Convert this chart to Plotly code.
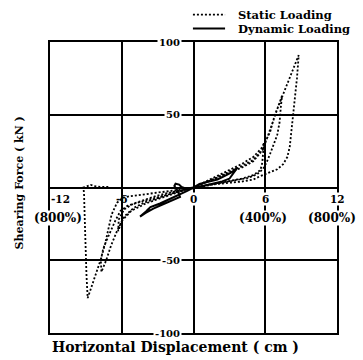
import plotly.graph_objects as go

# ---------------- data ----------------
# Static loading: successive hysteresis loops (cm, kN)
static_A_pos_x = [0, 1, 2, 3, 4, 5, 5.6, 5.9, 5.85, 5.75, 5.6, 5.0, 4.0, 3.0, 2.0, 1.0, 0]
static_A_pos_y = [0, 3.5, 7, 10, 13.5, 18, 24, 31, 24, 17, 12, 8.5, 6, 4.5, 3, 1.5, 0]

static_A_neg_x = [0, -1, -2, -3, -4, -5.2, -6.0, -6.3, -6.25, -5.8, -5.0, -4.0, -3.0, -2.0, -1.0, 0]
static_A_neg_y = [0, -2.5, -5, -8, -11, -16, -23, -30, -22, -15, -11, -8, -5.5, -3.5, -1.5, 0]

static_B_pos_x = [0, 1, 2, 3, 4, 5, 5.8, 6.2, 6.6, 6.95, 7.4,
                  7.3, 7.2, 7.0, 6.7, 6.4, 6.1, 5.8, 5.3, 4.5, 3.5, 2.5, 1.5, 0]
static_B_pos_y = [0, 3.5, 7, 10.5, 14.5, 19, 26, 35, 44, 52, 63,
                  55, 45, 36, 29, 23, 17, 12.5, 9, 6.5, 5, 3.5, 2, 0]

static_B_neg_x = [0, -1, -2, -3, -4, -5, -5.8, -6.4, -6.9, -7.3, -7.7,
                  -7.75, -7.55, -7.25, -6.9, -6.55, -6.1, -5.5, -4.5, -3.5, -2.5, -1.5, 0]
static_B_neg_y = [0, -2, -4.5, -7, -10, -14, -20, -30, -40, -50, -58,
                  -50, -42, -36, -29, -23, -16, -12.5, -10, -7.5, -5.5, -3.5, 0]

static_C_pos_x = [0, 1, 2, 3, 4, 5, 5.8, 6.4, 6.8, 7.3, 7.8, 8.3, 8.8,
                  8.65, 8.45, 8.3, 8.2, 8.05, 7.85, 7.5, 7.0, 6.4, 6.0, 5.5, 5.0, 4.0, 3.0, 2.0, 1.0, 0]
static_C_pos_y = [0, 4, 8, 12, 16, 21, 28, 38, 50, 60, 70, 81, 91,
                  75, 60, 50, 38, 28, 21, 16, 12.5, 10.5, 9.5, 7.5, 5.5, 4, 3.3, 2.5, 1.5, 0]

static_C_neg_x = [0, -1, -2, -3, -4, -4.6, -5.3, -5.9, -6.4, -6.85, -7.1, -7.4, -7.8, -8.3, -8.85,
                  -8.95, -9.0, -9.1, -9.15, -9.2, -9.0, -8.6, -8.3, -7.8, -7.0]
static_C_neg_y = [0, -1.5, -2.5, -3.5, -4.5, -5.5, -6, -7, -10.5, -18.6, -28, -39, -50.6, -63, -76,
                  -60, -40, -20, -5, 0, 0.5, 1.8, 1.0, 0.5, 0.3]

# Dynamic loading loop
dynamic_x = [0, 0.5, 1.4, 2.0, 2.5, 3.1, 3.66, 3.3, 3.0, 2.4, 1.9, 1.2, 0.5, 0,
             -0.6, -1.0, -1.2, -1.5, -1.6, -1.3, -1.13, -2.24, -3.36, -4.0, -4.47,
             -3.7, -3.9, -3.6, -2.8, -1.7, -0.57, 0]
dynamic_y = [0, 2.5, 4.3, 5.5, 7.5, 10, 13.5, 9, 6, 4.2, 3.2, 2, 0.8, -0.5,
             -0.8, 0.3, 2.0, 2.6, 1.0, -2.5, -6.5, -10.5, -14.5, -17.5, -20,
             -14.6, -15.8, -13.5, -11.0, -7.0, -2.5, 0]

x_tick_vals = [-12, -6, 0, 6, 12]
x_tick_text = ["-12", "-6", "0", "6", "12"]
x_pct_vals = [-12, 6, 12]
x_pct_text = ["(800%)", "(400%)", "(800%)"]
y_tick_vals = [100, 50, -50, -100]
y_tick_text = ["100", "50", "-50", "-100"]
series_names = ["Static Loading", "Dynamic Loading"]

FONT = "DejaVu Serif"
STATIC_DASH = "2px,2px"

static_x = (static_A_pos_x + static_A_neg_x + static_B_pos_x + static_B_neg_x
            + static_C_pos_x + static_C_neg_x)
static_y = (static_A_pos_y + static_A_neg_y + static_B_pos_y + static_B_neg_y
            + static_C_pos_y + static_C_neg_y)

fig = go.Figure()
fig.add_trace(go.Scatter(x=static_x, y=static_y, mode="lines", name=series_names[0],
                         line=dict(color="black", width=1.8, dash=STATIC_DASH)))
fig.add_trace(go.Scatter(x=dynamic_x, y=dynamic_y, mode="lines", name=series_names[1],
                         line=dict(color="black", width=2)))

ann = []
for v, t in zip(y_tick_vals, y_tick_text):
    ann.append(dict(x=-1.0, y=v, xref="x", yref="y", text="<b>%s</b>" % t, showarrow=False,
                    xanchor="right", yanchor="middle", bgcolor="white", borderpad=1,
                    font=dict(family=FONT, size=10, color="black")))
x_pos = {-12: -11.1, -6: -6, 0: 0, 6: 6, 12: 12}
for v, t in zip(x_tick_vals, x_tick_text):
    ann.append(dict(x=x_pos[v], y=-8.2, xref="x", yref="y", text="<b>%s</b>" % t, showarrow=False,
                    xanchor="center", yanchor="middle",
                    bgcolor=None if v == -6 else "white", borderpad=0,
                    font=dict(family=FONT, size=10.5, color="black")))
p_pos = {-12: -11.3, 6: 5.85, 12: 11.6}
for v, t in zip(x_pct_vals, x_pct_text):
    ann.append(dict(x=p_pos[v], y=-21.3, xref="x", yref="y", text="<b>%s</b>" % t, showarrow=False,
                    xanchor="center", yanchor="middle", bgcolor="white", borderpad=0,
                    font=dict(family=FONT, size=12, color="black")))
ann.append(dict(x=0.436, y=-0.048, xref="paper", yref="paper",
                text="<b>Horizontal Displacement ( cm )</b>", showarrow=False,
                xanchor="center", yanchor="middle",
                font=dict(family=FONT, size=14, color="black")))
ann.append(dict(x=-0.105, y=0.517, xref="paper", yref="paper",
                text="<b>Shearing Force ( kN )</b>", showarrow=False, textangle=-90,
                xanchor="center", yanchor="middle",
                font=dict(family=FONT, size=11, color="black")))

# manual legend (text + line samples)
leg_rows = [(1.094, STATIC_DASH, 1.8), (1.046, "solid", 2)]
shapes = []
for name, (ly, dsh, w) in zip(series_names, leg_rows):
    ann.append(dict(x=0.648, y=ly, xref="paper", yref="paper", text="<b>%s</b>" % name,
                    showarrow=False, xanchor="left", yanchor="middle",
                    font=dict(family=FONT, size=11.5, color="black")))
    shapes.append(dict(type="line", xref="paper", yref="paper", x0=0.498, x1=0.610,
                       y0=ly, y1=ly, line=dict(color="black", width=w, dash=dsh)))

axis_common = dict(showline=True, mirror=True, linecolor="black", linewidth=2,
                   showgrid=True, gridcolor="black", gridwidth=1.6,
                   zeroline=True, zerolinecolor="black", zerolinewidth=2,
                   showticklabels=False, ticks="")

fig.update_layout(
    width=363, height=360,
    margin=dict(l=50, r=26, t=42, b=27),
    paper_bgcolor="white", plot_bgcolor="white",
    xaxis=dict(range=[-12, 12], dtick=6, tick0=0, **axis_common),
    yaxis=dict(range=[-100, 100], dtick=50, tick0=0, **axis_common),
    showlegend=False,
    annotations=ann,
    shapes=shapes,
)

fig.write_html("out.html")
